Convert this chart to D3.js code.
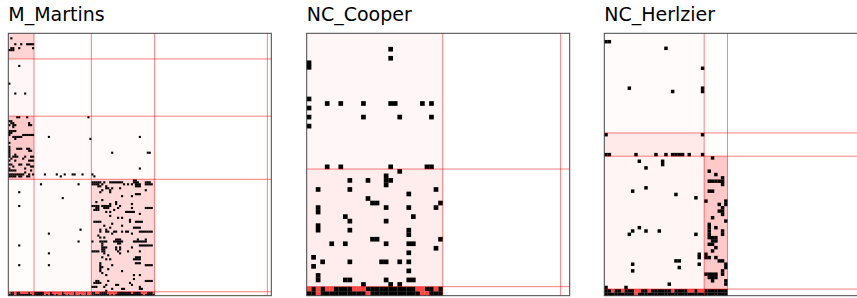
<!DOCTYPE html>
<html>
<head>
<meta charset="utf-8">
<script src="https://cdn.jsdelivr.net/npm/d3@7"></script>
<style>
body { margin: 0; background: #fff; }
svg { display: block; }
</style>
</head>
<body>
<div id="chart"></div>
<script>
// matrix data: "row:col,col-col" lists, one entry per row
var titles = ["M_Martins", "NC_Cooper", "NC_Herlzier"];

var martinsN = 133;
var martinsBreaks = [13, 42, 74, 131];
var martinsShade = [
    [0, 13, 0, 13, 0.17], [13, 42, 0, 13, 0.03], [42, 74, 0, 13, 0.21],
    [42, 74, 13, 42, 0.025], [42, 74, 42, 74, 0.015], [74, 131, 0, 13, 0.01],
    [74, 131, 13, 42, 0.02], [74, 131, 42, 74, 0.15]
];
var martinsBlack = [
    "2:1", "5:3,6,9-12", "7:1,2,5,12", "8:0-2", "16:5", "25:0", "30:3,8",
    "42:4,5,9,40", "44:0,1", "45:1,2,10", "46:0,2,3,10,11", "47:2", "49:0-3", "50:0,1",
    "51:0,7-12", "52:2-6,20,66", "53:3,41", "55:0", "57:0", "58:0,4-6,9,10", "59:0,10,11",
    "60:0,52,70,71", "61:0,3", "62:0,2-4,8,11,12", "63:1,7", "64:0,3,10-12", "66:0,1,5,6,9,10",
    "67:2,11,12", "68:0,8,66", "69:0-3,11", "70:8", "71:0-7,10,12,18,24,28,32,33,37,42",
    "72:0-3,5,6,9,10,26,43",
    "74:63,64", "75:42-46,48,51-57,63-65,69-71", "76:16,35,42-45,47,58,60,62,64-66,69-72",
    "77:45,46,49,64-66", "78:49,50,52,56", "79:47,51,69", "80:5,46,51", "81:64-66",
    "82:57,62", "83:27", "84:47", "85:44,54", "86:51,54,62", "87:5,42-45,47-51,56",
    "88:44,45,48-50,55,62,69-72", "89:43-45,53", "90:49,51,59-63", "91:66", "92:51",
    "93:55,57", "94:61", "95:43-46,61,64-67", "96:52", "97:48,57", "98:51,63-66",
    "99:36,46,49", "100:46,49,50,53,54,57,59,60,66-72", "101:20,52,62", "102:45",
    "103:46,48", "104:54-56,65,69", "105:35,42,46-49,53-57,63-69", "106:47,55,56",
    "107:5,47,66-72", "108:47-49,54,56,62", "109:47,48,54,56", "110:42-45,47,48,55,60,66",
    "111:20,48,56", "112:50", "113:47,64-66", "114:49,51,63-66", "116:46,64-66",
    "117:5,20,46,52,69-72", "118:46,47", "119:46,50", "120:46,57", "121:47", "122:49,63,66",
    "124:63", "125:44,45,50,69-72", "126:43-46,61", "127:49,54,55,62", "128:42-44,48,66",
    "129:52,57,58,66,67", "130:49",
    "131:1,2,4,5,10,13-17,21,27,33,39,42,43,46-49,55-61,63-66,70-72",
    "132:0-2,4-11,13-17,19,21,22,24,27,28,30,33,36,39,42-50,52,54-67,69-73"
];
var martinsRed = [
    "131:0,3,6-9,11,12,18-20,22-26,28-32,34-38,40,41,44,45,50-54,62,67-69,73",
    "132:3,12,18,20,23,25,26,29,31,32,34,35,37,38,40,41,51,53,68"
];

var cooperN = 58;
var cooperBreaks = [30, 56];
var cooperShade = [[0, 30, 0, 30, 0.03], [30, 56, 0, 30, 0.075]];
var cooperBlack = [
    "3:18", "5:18", "6:0", "7:0", "14:0", "15:4,7,12,18,19,25,27", "16:0", "18:0,12,20,27", "20:0",
    "29:4,7,18,26,27", "30:20", "31:17", "32:9,13,17,18", "33:17", "34:2,9,28", "35:22", "36:13",
    "37:14,15,29", "38:2,17,22,28", "39:2", "40:8,23", "41:9,17", "42:2", "43:2,9,22", "44:22",
    "45:14,15,29", "46:5,8,17,22,23", "47:28", "48:22", "49:1", "50:3,9,16,17,20,22", "51:1",
    "52:22", "53:2", "54:2,8,9,17,22,23", "55:12,18,20",
    "56:1,3,6-9,13-23,26,27,29", "57:0,1,3-12,14-24,27-29"
];
var cooperRed = ["56:0,2,4,5,10-12,24,25,28", "57:2,13,25,26"];

var herlzierN = 79;
var herlzierBreaks = [30, 37, 77];
var herlzierShade = [[0, 30, 0, 30, 0.015], [30, 37, 0, 30, 0.085], [37, 77, 0, 30, 0.04], [37, 77, 30, 37, 0.21]];
var herlzierBlack = [
    "2:0,1", "4:18", "10:29", "16:7,29", "17:20,29", "30:0,29",
    "36:0,1,9,15,18,20-23,25,29", "37:32", "38:10,17", "39:17", "40:12", "41:31", "42:33",
    "43:35", "44:31-35", "45:35", "46:12", "47:8,31,32", "48:21", "49:27", "50:30,36",
    "51:34,36", "52:35", "53:34,35", "54:35", "55:32", "56:36", "57:31", "58:10,31,33",
    "59:8,12,16,31,35", "60:7,27,31,35", "61:31-33", "62:32,33", "63:31,32", "64:33", "65:32",
    "66:28,30", "67:28,30,31,33", "68:21,22,34,35", "69:8,28,36", "70:22,36", "71:8,35",
    "72:30-33,35", "73:31-33", "74:32,36", "75:19,36", "76:0,6",
    "77:0,1,3,4,6-8,11,12,14-19,21-24,27,30-36", "78:0-8,10-36"
];
var herlzierRed = ["77:2,5,9,10,13,20,25,26,28,29", "78:9"];

function parseCells(rows) {
    var out = [];
    rows.forEach(function(s) {
        var parts = s.split(":");
        var r = +parts[0];
        parts[1].split(",").forEach(function(t) {
            var ab = t.split("-");
            var a = +ab[0], b = ab.length > 1 ? +ab[1] : a;
            for (var c = a; c <= b; c++) out.push({ r: r, c: c });
        });
    });
    return out;
}

var panels = [
    { n: martinsN, breaks: martinsBreaks, shade: martinsShade, black: martinsBlack, red: martinsRed },
    { n: cooperN, breaks: cooperBreaks, shade: cooperShade, black: cooperBlack, red: cooperRed },
    { n: herlzierN, breaks: herlzierBreaks, shade: herlzierShade, black: herlzierBlack, red: herlzierRed }
];

var left = [8.3, 306.7, 604.3];
var top0 = 33.3;
var size = 263;
var sizeH = 262.4;

var svg = d3.select("#chart").append("svg")
    .attr("width", 857)
    .attr("height", 298);

panels.forEach(function(p, i) {
    var g = svg.append("g")
        .attr("transform", `translate(${left[i]}, ${top0})`);

    var x = d3.scaleLinear().domain([0, p.n]).range([0, size]);
    var y = d3.scaleLinear().domain([0, p.n]).range([0, sizeH]);
    var cw = x(1) - x(0), ch = y(1) - y(0);

    g.selectAll(".shade")
        .data(p.shade)
        .enter().append("rect")
        .attr("class", "shade")
        .attr("x", d => x(d[2]))
        .attr("y", d => y(d[0]))
        .attr("width", d => x(d[3]) - x(d[2]))
        .attr("height", d => y(d[1]) - y(d[0]))
        .attr("fill", "red")
        .attr("fill-opacity", d => d[4]);

    [[p.black, "#000"], [p.red, "#ff4444"]].forEach(function(set) {
        g.append("g").selectAll("rect")
            .data(parseCells(set[0]))
            .enter().append("rect")
            .attr("x", d => x(d.c))
            .attr("y", d => y(d.r))
            .attr("width", cw + 0.15)
            .attr("height", ch + 0.15)
            .attr("fill", set[1]);
    });

    g.selectAll(".vline")
        .data(p.breaks)
        .enter().append("line")
        .attr("class", "vline")
        .attr("x1", d => x(d)).attr("x2", d => x(d))
        .attr("y1", 0).attr("y2", sizeH)
        .attr("stroke", "red")
        .attr("stroke-opacity", 0.5)
        .attr("stroke-width", 1);

    g.selectAll(".hline")
        .data(p.breaks)
        .enter().append("line")
        .attr("class", "hline")
        .attr("y1", d => y(d)).attr("y2", d => y(d))
        .attr("x1", 0).attr("x2", size)
        .attr("stroke", "red")
        .attr("stroke-opacity", 0.5)
        .attr("stroke-width", 1);

    g.append("rect")
        .attr("width", size)
        .attr("height", sizeH)
        .attr("fill", "none")
        .attr("stroke", "#444")
        .attr("stroke-width", 1);

    g.append("text")
        .attr("x", 0)
        .attr("y", -12)
        .attr("font-family", "DejaVu Sans")
        .attr("font-size", "19px")
        .attr("fill", "#000")
        .text(titles[i]);
});
</script>
</body>
</html>
